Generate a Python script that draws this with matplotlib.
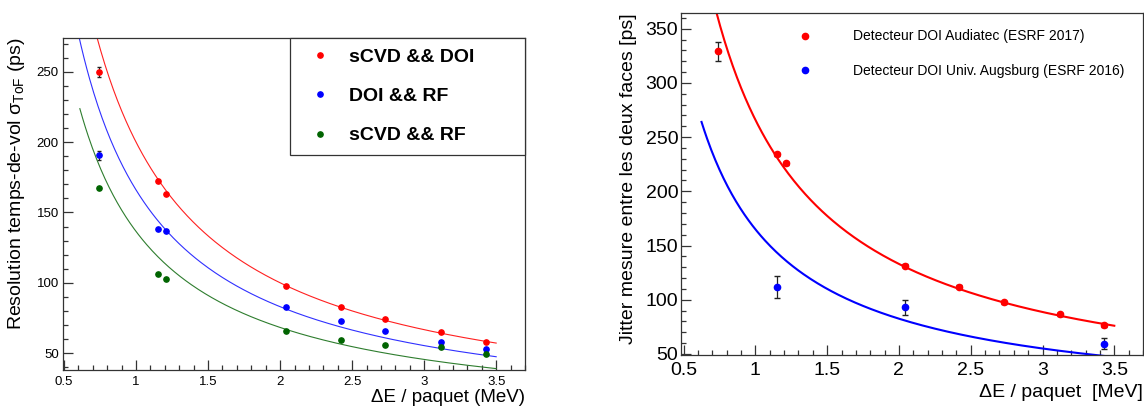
import numpy as np
import matplotlib
matplotlib.use('Agg')
import matplotlib.pyplot as plt
from matplotlib.ticker import MultipleLocator, FormatStrFormatter

plt.rcParams['font.family'] = ['Liberation Sans', 'DejaVu Sans']
plt.rcParams['mathtext.fontset'] = 'custom'
plt.rcParams['mathtext.rm'] = 'Liberation Sans'
plt.rcParams['mathtext.it'] = 'Liberation Sans:italic'

# energie par paquet (MeV)
energy = [0.74, 1.15, 1.21, 2.04, 2.42, 2.73, 3.12, 3.43]

# panneau gauche : resolution temps-de-vol (ps)
res_scvd_doi = [250, 172, 163, 98, 83, 74, 65, 58]
err_scvd_doi = [3.5, 0, 0, 0, 0, 0, 0, 0]
res_doi_rf = [190.5, 138, 136.5, 82.5, 72.7, 65.5, 57.8, 52.8]
err_doi_rf = [3, 0, 0, 0, 0, 0, 0, 0]
res_scvd_rf = [167.5, 106, 103, 66, 59, 56, 54, 49.5]
err_scvd_rf = [0, 0, 0, 0, 0, 0, 0, 0]

# panneau droit : jitter entre les deux faces (ps)
jitter_audiatec = [329, 234, 226, 131.5, 112, 97.5, 86.5, 76.5]
err_audiatec = [9, 1.5, 1.5, 1.5, 1.5, 1.5, 1.5, 1.5]
energy_augsburg = [1.15, 2.04, 3.43]
jitter_augsburg = [112, 93, 59.5]
err_augsburg = [10, 7, 5]

# ajustements A / E (amplitude, domaine en MeV)
fit_left = {'sCVD && DOI': (200.0, 0.6, 3.5),
            'DOI && RF': (166.0, 0.6, 3.5),
            'sCVD && RF': (136.5, 0.61, 3.5)}
fit_audiatec = (266.0, 0.6, 3.5)
fit_augsburg = (165.0, 0.625, 3.5)

W, H = 1144, 408
fig = plt.figure(figsize=(W / 100, H / 100), dpi=100)


def px_axes(x0, y0, x1, y1):
    return fig.add_axes([x0 / W, 1 - y1 / H, (x1 - x0) / W, (y1 - y0) / H])


def root_style(ax, fs):
    ax.xaxis.set_major_locator(MultipleLocator(0.5))
    ax.xaxis.set_minor_locator(MultipleLocator(0.1))
    ax.xaxis.set_major_formatter(FormatStrFormatter('%g'))
    ax.yaxis.set_major_locator(MultipleLocator(50))
    ax.yaxis.set_minor_locator(MultipleLocator(10))
    ax.tick_params(which='both', direction='in', top=False, right=False,
                   labelsize=fs, width=0.9, color='#333333')
    ax.tick_params(which='major', length=7.2)
    ax.tick_params(which='minor', length=3.6)
    for s in ax.spines.values():
        s.set_linewidth(0.9)
        s.set_color('#333333')


def fit_curve(ax, fit, **kw):
    amp, lo, hi = fit
    e = np.linspace(lo, hi, 300)
    ax.plot(e, amp / e, **kw)


# ---- gauche
ax1 = px_axes(63, 38, 525, 370)
root_style(ax1, 9.5)
ax1.tick_params(axis='y', pad=3)
ax1.tick_params(axis='x', pad=4)
series = [
    ('sCVD && DOI', res_scvd_doi, err_scvd_doi, '#ff0000', '#ff2020'),
    ('DOI && RF', res_doi_rf, err_doi_rf, '#0000ff', '#3030ff'),
    ('sCVD && RF', res_scvd_rf, err_scvd_rf, '#006400', '#2e7d2e'),
]
for name, vals, errs, mcol, lcol in series:
    fit_curve(ax1, fit_left[name], color=lcol, lw=0.8)
    ax1.errorbar(energy, vals, yerr=errs, fmt='none', ecolor='#222222',
                 elinewidth=0.8, capsize=1.5)
    ax1.plot(energy, vals, 'o', color=mcol, ms=3.8, label=name)
ax1.set_xlim(0.493, 3.70)
ax1.set_ylim(38, 274)
ax1.set_xlabel('ΔE / paquet (MeV)', fontsize=13.5, loc='right')
ax1.xaxis.set_label_coords(1.0, -0.056)
ax1.set_ylabel('Resolution temps-de-vol σ$_{\\mathrm{ToF}}$ (ps)',
               fontsize=14, loc='top')
ax1.yaxis.set_label_coords(-0.078, 1.0)
leg1 = ax1.legend(loc='upper left', bbox_to_anchor=(0.491, 0.614, 0.509, 0.386),
                  mode='expand', borderaxespad=0, fancybox=False,
                  edgecolor='#333333', framealpha=1, numpoints=1,
                  prop={'weight': 'bold', 'size': 14}, borderpad=0.55,
                  labelspacing=1.1, handlelength=2.0, handletextpad=0.5)
leg1.get_frame().set_linewidth(0.9)

# ---- droite
ax2 = px_axes(681, 13, 1143, 355)
root_style(ax2, 14)
ax2.tick_params(axis='y', pad=2)
ax2.tick_params(axis='x', pad=5)
fit_curve(ax2, fit_audiatec, color='#ff0000', lw=1.5)
fit_curve(ax2, fit_augsburg, color='#0000ff', lw=1.5)
ax2.errorbar(energy, jitter_audiatec, yerr=err_audiatec, fmt='none',
             ecolor='#222222', elinewidth=0.9, capsize=2)
ax2.errorbar(energy_augsburg, jitter_augsburg, yerr=err_augsburg, fmt='none',
             ecolor='#222222', elinewidth=0.9, capsize=2)
ax2.plot(energy, jitter_audiatec, 'o', color='#ff0000', ms=4.5,
         label='Detecteur DOI Audiatec (ESRF 2017)')
ax2.plot(energy_augsburg, jitter_augsburg, 'o', color='#0000ff', ms=4.5,
         label='Detecteur DOI Univ. Augsburg (ESRF 2016)')
ax2.set_xlim(0.482, 3.70)
ax2.set_ylim(49, 364.5)
ax2.set_xlabel('ΔE / paquet  [MeV]', fontsize=14, loc='right')
ax2.xaxis.set_label_coords(1.0, -0.085)
ax2.set_ylabel('Jitter mesure entre les deux faces [ps]', fontsize=14, loc='top')
ax2.yaxis.set_label_coords(-0.095, 1.0)
ax2.legend(loc='upper left', bbox_to_anchor=(0.238, 0.952), borderaxespad=0,
           borderpad=0, frameon=False, fontsize=10, numpoints=1,
           labelspacing=1.45, handlelength=2.0, handletextpad=2.5)

fig.savefig('out.png', dpi=100)
